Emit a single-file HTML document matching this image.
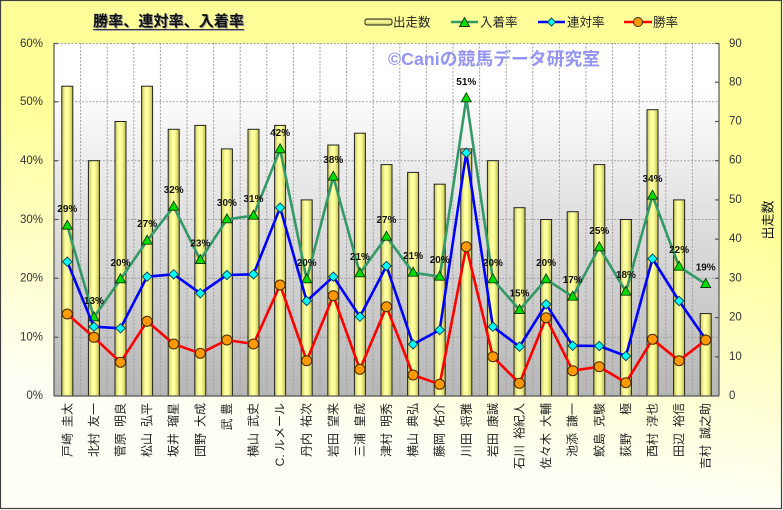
<!DOCTYPE html>
<html><head><meta charset="utf-8"><style>
html,body{margin:0;padding:0;background:#fff;}
svg{display:block;}
text{font-family:"Liberation Sans","Noto Sans CJK JP",sans-serif;}
</style></head><body>
<svg width="783" height="510" viewBox="0 0 783 510" xmlns="http://www.w3.org/2000/svg">
<defs>
<linearGradient id="bg" gradientUnits="userSpaceOnUse" x1="400" y1="170" x2="355" y2="440">
<stop offset="0" stop-color="#FFFF99"/><stop offset="1" stop-color="#FFFFF6"/></linearGradient>
<linearGradient id="pa" x1="0" y1="0" x2="0" y2="1">
<stop offset="0" stop-color="#FFFFFF"/><stop offset="0.12" stop-color="#FFFFFF"/><stop offset="1" stop-color="#B6B6B6"/></linearGradient>
<linearGradient id="bar" x1="0" y1="0" x2="1" y2="0">
<stop offset="0" stop-color="#C4C458"/><stop offset="0.35" stop-color="#FFFFA6"/><stop offset="0.6" stop-color="#FFFF99"/><stop offset="1" stop-color="#BEBE50"/></linearGradient>
<linearGradient id="barh" x1="0" y1="0" x2="0" y2="1">
<stop offset="0" stop-color="#C4C458"/><stop offset="0.4" stop-color="#FFFFA6"/><stop offset="1" stop-color="#BEBE50"/></linearGradient>
<marker id="mt" markerUnits="userSpaceOnUse" markerWidth="14" markerHeight="14" refX="7" refY="7" viewBox="0 0 14 14" overflow="visible">
<polygon points="7,1.5 12,10.5 2,10.5" fill="#00DD00" stroke="#0A3A0A" stroke-width="0.9"/></marker>
<marker id="md" markerUnits="userSpaceOnUse" markerWidth="14" markerHeight="14" refX="7" refY="7" viewBox="0 0 14 14" overflow="visible">
<polygon points="7,2.3 11.7,7 7,11.7 2.3,7" fill="#00FFFF" stroke="#0A3A50" stroke-width="0.9"/></marker>
<marker id="mc" markerUnits="userSpaceOnUse" markerWidth="14" markerHeight="14" refX="7" refY="7" viewBox="0 0 14 14" overflow="visible">
<circle cx="7" cy="7" r="5" fill="#FF9900" stroke="#4A2A00" stroke-width="1"/></marker>
</defs>

<rect x="0" y="0" width="783" height="510" fill="#FFFFFF"/>
<rect x="0.5" y="0.5" width="781" height="508" fill="url(#bg)" stroke="#404040" stroke-width="1.2"/>

<!-- plot area -->
<rect x="54" y="43" width="665" height="353" fill="url(#pa)"/>
<g stroke="#A0A0A0" stroke-width="1" stroke-dasharray="2,1.5" fill="none">
<line x1="54" y1="43.5" x2="719" y2="43.5"/>
<line x1="54" y1="101.8" x2="719" y2="101.8"/>
<line x1="54" y1="160.7" x2="719" y2="160.7"/>
<line x1="54" y1="219.5" x2="719" y2="219.5"/>
<line x1="54" y1="278.3" x2="719" y2="278.3"/>
<line x1="54" y1="337.2" x2="719" y2="337.2"/>
<line x1="80.6" y1="43" x2="80.6" y2="396"/><line x1="107.2" y1="43" x2="107.2" y2="396"/>
<line x1="133.8" y1="43" x2="133.8" y2="396"/><line x1="160.4" y1="43" x2="160.4" y2="396"/>
<line x1="187" y1="43" x2="187" y2="396"/><line x1="213.6" y1="43" x2="213.6" y2="396"/>
<line x1="240.2" y1="43" x2="240.2" y2="396"/><line x1="266.8" y1="43" x2="266.8" y2="396"/>
<line x1="293.4" y1="43" x2="293.4" y2="396"/><line x1="320" y1="43" x2="320" y2="396"/>
<line x1="346.6" y1="43" x2="346.6" y2="396"/><line x1="373.2" y1="43" x2="373.2" y2="396"/>
<line x1="399.8" y1="43" x2="399.8" y2="396"/><line x1="426.4" y1="43" x2="426.4" y2="396"/>
<line x1="453" y1="43" x2="453" y2="396"/><line x1="479.6" y1="43" x2="479.6" y2="396"/>
<line x1="506.2" y1="43" x2="506.2" y2="396"/><line x1="532.8" y1="43" x2="532.8" y2="396"/>
<line x1="559.4" y1="43" x2="559.4" y2="396"/><line x1="586" y1="43" x2="586" y2="396"/>
<line x1="612.6" y1="43" x2="612.6" y2="396"/><line x1="639.2" y1="43" x2="639.2" y2="396"/>
<line x1="665.8" y1="43" x2="665.8" y2="396"/><line x1="692.4" y1="43" x2="692.4" y2="396"/>
</g>

<!-- bars -->
<g fill="url(#bar)" stroke="#222" stroke-width="1">
<rect x="61.8" y="86.2" width="11" height="309.8"/>
<rect x="88.4" y="160.7" width="11" height="235.3"/>
<rect x="115" y="121.5" width="11" height="274.5"/>
<rect x="141.6" y="86.2" width="11" height="309.8"/>
<rect x="168.2" y="129.3" width="11" height="266.7"/>
<rect x="194.8" y="125.4" width="11" height="270.6"/>
<rect x="221.4" y="148.9" width="11" height="247.1"/>
<rect x="248" y="129.3" width="11" height="266.7"/>
<rect x="274.6" y="125.4" width="11" height="270.6"/>
<rect x="301.2" y="199.9" width="11" height="196.1"/>
<rect x="327.8" y="145" width="11" height="251"/>
<rect x="354.4" y="133.2" width="11" height="262.8"/>
<rect x="381" y="164.6" width="11" height="231.4"/>
<rect x="407.6" y="172.4" width="11" height="223.6"/>
<rect x="434.2" y="184.2" width="11" height="211.8"/>
<rect x="460.8" y="148.9" width="11" height="247.1"/>
<rect x="487.4" y="160.7" width="11" height="235.3"/>
<rect x="514" y="207.7" width="11" height="188.3"/>
<rect x="540.6" y="219.5" width="11" height="176.5"/>
<rect x="567.2" y="211.7" width="11" height="184.3"/>
<rect x="593.8" y="164.6" width="11" height="231.4"/>
<rect x="620.4" y="219.5" width="11" height="176.5"/>
<rect x="647" y="109.7" width="11" height="286.3"/>
<rect x="673.6" y="199.9" width="11" height="196.1"/>
<rect x="700.2" y="313.6" width="11" height="82.4"/>
</g>

<!-- axes -->
<g stroke="#555" stroke-width="1.2">
<line x1="54" y1="43" x2="54" y2="396"/>
<line x1="719" y1="43" x2="719" y2="396"/>
<line x1="54" y1="396" x2="719" y2="396"/>
<line x1="54" y1="43.5" x2="58" y2="43.5"/><line x1="54" y1="101.8" x2="58" y2="101.8"/>
<line x1="54" y1="160.7" x2="58" y2="160.7"/><line x1="54" y1="219.5" x2="58" y2="219.5"/>
<line x1="54" y1="278.3" x2="58" y2="278.3"/><line x1="54" y1="337.2" x2="58" y2="337.2"/>
<line x1="715" y1="43.5" x2="719" y2="43.5"/><line x1="715" y1="82.2" x2="719" y2="82.2"/>
<line x1="715" y1="121.5" x2="719" y2="121.5"/><line x1="715" y1="160.7" x2="719" y2="160.7"/>
<line x1="715" y1="199.9" x2="719" y2="199.9"/><line x1="715" y1="239.1" x2="719" y2="239.1"/>
<line x1="715" y1="278.3" x2="719" y2="278.3"/><line x1="715" y1="317.6" x2="719" y2="317.6"/>
<line x1="715" y1="356.8" x2="719" y2="356.8"/>
</g>

<!-- series -->
<polyline fill="none" stroke="#339966" stroke-width="2.6" stroke-linejoin="round" marker-start="url(#mt)" marker-mid="url(#mt)" marker-end="url(#mt)"
points="67.3,225.7 93.9,317.3 120.5,279.3 147.1,240.7 173.7,206.7 200.3,260 226.9,219.3 253.5,215.7 280.1,149.3 306.7,279.3 333.3,176.7 359.9,273.3 386.5,236.7 413.1,272.7 439.7,276.7 466.3,98.3 492.9,279.3 519.5,310 546.1,279.3 572.7,296.7 599.3,247.3 625.9,291.7 652.5,195.7 679.1,266.7 705.7,284"/>
<polyline fill="none" stroke="#0000FF" stroke-width="2.6" stroke-linejoin="round" marker-start="url(#md)" marker-mid="url(#md)" marker-end="url(#md)"
points="67.3,261.7 93.9,326.7 120.5,328.3 147.1,276.7 173.7,274.3 200.3,293.3 226.9,275 253.5,274.3 280.1,207.7 306.7,301 333.3,276.7 359.9,316.7 386.5,266 413.1,344.3 439.7,330 466.3,152.7 492.9,326.7 519.5,346.7 546.1,304.3 572.7,345.7 599.3,346 625.9,356 652.5,258.7 679.1,301 705.7,339.3"/>
<polyline fill="none" stroke="#FF0000" stroke-width="2.6" stroke-linejoin="round" marker-start="url(#mc)" marker-mid="url(#mc)" marker-end="url(#mc)"
points="67.3,314 93.9,337.3 120.5,362.3 147.1,321.3 173.7,344 200.3,353.3 226.9,340 253.5,344 280.1,285 306.7,360.7 333.3,295.7 359.9,369.3 386.5,306.7 413.1,375 439.7,384.3 466.3,246.7 492.9,356.7 519.5,383.3 546.1,317.7 572.7,370.7 599.3,366.7 625.9,382.7 652.5,339.3 679.1,360.7 705.7,340"/>

<!-- data labels -->
<g font-size="10" font-weight="bold" fill="#111" text-anchor="middle">
<text x="67.3" y="212.2">29%</text>
<text x="93.9" y="303.8">13%</text>
<text x="120.5" y="265.8">20%</text>
<text x="147.1" y="227.2">27%</text>
<text x="173.7" y="193.2">32%</text>
<text x="200.3" y="246.5">23%</text>
<text x="226.9" y="205.8">30%</text>
<text x="253.5" y="202.2">31%</text>
<text x="280.1" y="135.8">42%</text>
<text x="306.7" y="265.8">20%</text>
<text x="333.3" y="163.2">38%</text>
<text x="359.9" y="259.8">21%</text>
<text x="386.5" y="223.2">27%</text>
<text x="413.1" y="259.2">21%</text>
<text x="439.7" y="263.2">20%</text>
<text x="466.3" y="84.8">51%</text>
<text x="492.9" y="265.8">20%</text>
<text x="519.5" y="296.5">15%</text>
<text x="546.1" y="265.8">20%</text>
<text x="572.7" y="283.2">17%</text>
<text x="599.3" y="233.8">25%</text>
<text x="625.9" y="278.2">18%</text>
<text x="652.5" y="182.2">34%</text>
<text x="679.1" y="253.2">22%</text>
<text x="705.7" y="270.5">19%</text>
</g>

<!-- watermark -->
<text x="388" y="65" font-size="17.5" font-weight="bold" fill="#9494F4" textLength="212" lengthAdjust="spacingAndGlyphs">©Caniの競馬データ研究室</text>

<!-- left axis labels -->
<g font-size="11.5" fill="#333" text-anchor="end" dominant-baseline="central">
<text x="43" y="44">60%</text>
<text x="43" y="102">50%</text>
<text x="43" y="161">40%</text>
<text x="43" y="220">30%</text>
<text x="43" y="278.5">20%</text>
<text x="43" y="337.5">10%</text>
<text x="43" y="396">0%</text>
</g>
<!-- right axis labels -->
<g font-size="11.5" fill="#333" dominant-baseline="central">
<text x="729" y="44">90</text>
<text x="729" y="82.5">80</text>
<text x="729" y="121.5">70</text>
<text x="729" y="160.7">60</text>
<text x="729" y="200">50</text>
<text x="729" y="239">40</text>
<text x="729" y="278.3">30</text>
<text x="729" y="317.6">20</text>
<text x="729" y="356.8">10</text>
<text x="729" y="396">0</text>
</g>
<text transform="translate(768,220) rotate(-90)" font-size="13" fill="#111" text-anchor="middle" dominant-baseline="central">出走数</text>

<!-- category labels -->
<g font-size="12" fill="#222" text-anchor="end" dominant-baseline="central">
<text transform="translate(67.3,403) rotate(-90)">戸崎&#8194;圭太</text>
<text transform="translate(93.9,403) rotate(-90)">北村&#8194;友一</text>
<text transform="translate(120.5,403) rotate(-90)">菅原&#8194;明良</text>
<text transform="translate(147.1,403) rotate(-90)">松山&#8194;弘平</text>
<text transform="translate(173.7,403) rotate(-90)">坂井&#8194;瑠星</text>
<text transform="translate(200.3,403) rotate(-90)">団野&#8194;大成</text>
<text transform="translate(226.9,403) rotate(-90)">武 豊</text>
<text transform="translate(253.5,403) rotate(-90)">横山&#8194;武史</text>
<text transform="translate(280.1,403) rotate(-90)">C. ルメール</text>
<text transform="translate(306.7,403) rotate(-90)">丹内&#8194;祐次</text>
<text transform="translate(333.3,403) rotate(-90)">岩田&#8194;望来</text>
<text transform="translate(359.9,403) rotate(-90)">三浦&#8194;皇成</text>
<text transform="translate(386.5,403) rotate(-90)">津村&#8194;明秀</text>
<text transform="translate(413.1,403) rotate(-90)">横山&#8194;典弘</text>
<text transform="translate(439.7,403) rotate(-90)">藤岡&#8194;佑介</text>
<text transform="translate(466.3,403) rotate(-90)">川田&#8194;将雅</text>
<text transform="translate(492.9,403) rotate(-90)">岩田&#8194;康誠</text>
<text transform="translate(519.5,403) rotate(-90)">石川&#8194;裕紀人</text>
<text transform="translate(546.1,403) rotate(-90)">佐々木&#8194;大輔</text>
<text transform="translate(572.7,403) rotate(-90)">池添&#8194;謙一</text>
<text transform="translate(599.3,403) rotate(-90)">鮫島&#8194;克駿</text>
<text transform="translate(625.9,403) rotate(-90)">荻野　&#8194;極</text>
<text transform="translate(652.5,403) rotate(-90)">西村&#8194;淳也</text>
<text transform="translate(679.1,403) rotate(-90)">田辺&#8194;裕信</text>
<text transform="translate(705.7,403) rotate(-90)">吉村&#8194;誠之助</text>
</g>

<!-- title -->
<text x="94" y="27" font-size="15" font-weight="bold" fill="#999" textLength="151" lengthAdjust="spacingAndGlyphs">勝率、連対率、入着率</text>
<text x="93" y="26" font-size="15" font-weight="bold" fill="#111" textLength="151" lengthAdjust="spacingAndGlyphs">勝率、連対率、入着率</text>
<line x1="93" y1="29.5" x2="244" y2="29.5" stroke="#333" stroke-width="1"/>
<line x1="94" y1="30.5" x2="245" y2="30.5" stroke="#aaa" stroke-width="1"/>

<!-- legend -->
<rect x="365" y="19" width="27" height="6" rx="2" fill="url(#barh)" stroke="#222" stroke-width="1"/>
<line x1="451" y1="22" x2="478" y2="22" stroke="#339966" stroke-width="2.6"/>
<polygon points="464.5,17.5 469.5,26.5 459.5,26.5" fill="#00DD00" stroke="#0A3A0A" stroke-width="0.9"/>
<line x1="538" y1="22" x2="565" y2="22" stroke="#0000FF" stroke-width="2.6"/>
<polygon points="551.5,18 555.5,22 551.5,26 547.5,22" fill="#00FFFF" stroke="#0A3A50" stroke-width="0.9"/>
<line x1="624" y1="22" x2="652" y2="22" stroke="#FF0000" stroke-width="2.6"/>
<circle cx="638" cy="22" r="4.5" fill="#FF9900" stroke="#4A2A00" stroke-width="1"/>
<g font-size="12.5" fill="#222">
<text x="393" y="26.5">出走数</text>
<text x="480" y="26.5">入着率</text>
<text x="567" y="26.5">連対率</text>
<text x="653" y="26.5">勝率</text>
</g>
</svg>
</body></html>
